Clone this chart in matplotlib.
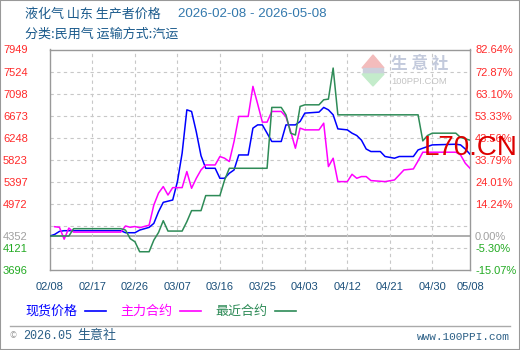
import numpy as np
import pandas as pd
import matplotlib
matplotlib.use("Agg")
import matplotlib.pyplot as plt
from matplotlib.patches import Polygon, Rectangle
from matplotlib.lines import Line2D

plt.rcParams['font.family'] = ['Noto Sans CJK SC', 'DejaVu Sans']

YEAR = "2026-"

# 现货价格 (spot)
spot_dates = ["02-08", "02-09", "02-10", "02-11", "02-23", "02-24", "02-26", "02-27",
              "03-01", "03-02", "03-03", "03-04", "03-06", "03-07", "03-08", "03-09",
              "03-10", "03-11", "03-12", "03-13", "03-15", "03-16", "03-17", "03-18",
              "03-19", "03-20", "03-22", "03-23", "03-24", "03-25", "03-26", "03-27",
              "03-29", "03-30", "04-01", "04-02", "04-03", "04-06", "04-07", "04-08",
              "04-09", "04-10", "04-12", "04-13", "04-14", "04-15", "04-16", "04-17",
              "04-19", "04-20", "04-22", "04-23", "04-26", "04-27", "04-28", "04-30",
              "05-05", "05-06", "05-07", "05-08"]
spot_vals = [4352, 4383, 4441, 4454, 4454, 4415, 4415, 4466,
             4518, 4595, 4821, 5001, 5046, 5401, 5950, 6785,
             6754, 6360, 5900, 5658, 5658, 5465, 5465, 5562,
             5626, 5915, 5915, 6432, 6495, 6495, 6335, 6175,
             6175, 6495, 6495, 6561, 6722, 6741, 6832, 6785,
             6689, 6418, 6399, 6335, 6290, 6200, 6030, 5981,
             5981, 5885, 5852, 5885, 5885, 6012, 6045, 6109,
             6122, 6109, 6030, 5929]

# 主力合约 (main contract)
main_dates = ["02-09", "02-10", "02-11", "02-12", "02-13", "02-23", "02-24", "02-25",
              "02-26", "02-27", "03-01", "03-02", "03-03", "03-04", "03-05", "03-06",
              "03-08", "03-09", "03-10", "03-11", "03-12", "03-13", "03-15", "03-16",
              "03-17", "03-18", "03-19", "03-20", "03-22", "03-23", "03-24", "03-25",
              "03-26", "03-27", "03-29", "03-30", "03-31", "04-01", "04-02", "04-03",
              "04-06", "04-07", "04-08", "04-09", "04-10", "04-12", "04-13", "04-14",
              "04-15", "04-16", "04-17", "04-20", "04-22", "04-23", "04-24", "04-26",
              "04-27", "04-28", "05-05", "05-06", "05-07", "05-08"]
main_vals = [4531, 4520, 4290, 4505, 4427, 4427, 4545, 4520,
             4535, 4512, 4560, 4949, 5180, 5305, 5142, 5285,
             5285, 5595, 5272, 5465, 5626, 5722, 5722, 5885,
             5852, 5788, 6175, 6658, 6658, 7238, 6900, 6548,
             6548, 6754, 6754, 6650, 6368, 6045, 6432, 6399,
             6399, 6528, 5691, 5852, 5401, 5401, 5542, 5465,
             5498, 5498, 5421, 5401, 5433, 5529, 5626, 5645,
             5800, 5968, 5968, 5915, 5755, 5658]

# 最近合约 (nearest contract)
near_dates = ["02-08", "02-12", "02-13", "02-23", "02-24", "02-25", "02-26", "02-27",
              "03-01", "03-02", "03-03", "03-04", "03-05", "03-08", "03-09", "03-10",
              "03-12", "03-13", "03-16", "03-17", "03-18", "03-26", "03-27", "03-29",
              "03-30", "03-31", "04-01", "04-02", "04-03", "04-06", "04-07", "04-08",
              "04-09", "04-10", "04-27", "04-28", "04-29", "04-30", "05-05", "05-06",
              "05-08"]
near_vals = [4352, 4352, 4493, 4493, 4466, 4300, 4241, 4048,
             4048, 4272, 4420, 4647, 4447, 4447, 4628, 4841,
             4841, 5131, 5131, 5432, 5658, 5658, 6832, 6832,
             6689, 6335, 6300, 6851, 6882, 6882, 6979, 6992,
             7591, 6689, 6689, 6186, 6290, 6335, 6335, 6252,
             6200]

x_ticks = ["02-08", "02-17", "02-26", "03-07", "03-16", "03-25", "04-03",
           "04-12", "04-21", "04-30", "05-08"]
y_ticks = [7949, 7524, 7098, 6673, 6248, 5823, 5397, 4972, 4547, 4352, 4121, 3696]
y_labels = ["7949", "7524", "7098", "6673", "6248", "5823", "5397", "4972", "",
            "4352", "4121", "3696"]
pct_labels = ["82.64%", "72.87%", "63.10%", "53.33%", "43.56%", "33.79%", "24.01%",
              "14.24%", "", "0.00%", "-5.30%", "-15.07%"]
base_val = 4352

series = [("现货价格", spot_dates, spot_vals, "#0000ff"),
          ("主力合约", main_dates, main_vals, "#ff00ff"),
          ("最近合约", near_dates, near_vals, "#2e8b57")]

W, H = 520, 350


def px(x, y):
    return x / W, 1 - y / H


def to_dt(lst):
    return pd.to_datetime([YEAR + s for s in lst])


fig = plt.figure(figsize=(W / 100, H / 100), dpi=100)
fig.patch.set_facecolor("white")
fig.patches.append(Rectangle((0, 0), 1, 1, transform=fig.transFigure, fill=False,
                             edgecolor="#999999", lw=1.5))

ax = fig.add_axes([50 / W, 1 - 270 / H, 420 / W, 220.5 / H])
xt = to_dt(x_ticks)
ax.set_xlim(xt[0], xt[-1])
ax.set_ylim(min(y_ticks), max(y_ticks))

# grid
for v in y_ticks:
    if v in (min(y_ticks), max(y_ticks)):
        continue
    if v == base_val:
        ax.axhline(v, color="#a0a0a0", lw=1.2, zorder=1)
    else:
        ax.axhline(v, color="#c8c8c8", lw=0.8, ls=(0, (3, 3)), zorder=1)
for d in xt[1:-1]:
    ax.axvline(d, color="#c8c8c8", lw=0.8, ls=(0, (3, 3)), zorder=1)

for name, ds, vs, c in series:
    ax.plot(to_dt(ds), vs, color=c, lw=1.1, zorder=3)

for s in ax.spines.values():
    s.set_color("#999999")
    s.set_linewidth(1.0)

def lab_color(v):
    if v > base_val:
        return "#ff2a2a"
    if v == base_val:
        return "#a0a0a0"
    return "#22aa22"

ax.set_yticks(y_ticks)
ax.set_yticklabels(y_labels)
ax.tick_params(axis="y", length=0, pad=16, labelsize=8)
for t, v in zip(ax.get_yticklabels(), y_ticks):
    t.set_color(lab_color(v))
    t.set_fontfamily("Liberation Sans")

ax2 = ax.twinx()
ax2.set_ylim(ax.get_ylim())
ax2.set_yticks(y_ticks)
ax2.set_yticklabels(pct_labels)
ax2.tick_params(axis="y", length=0, pad=3.6, labelsize=8)
for t, v in zip(ax2.get_yticklabels(), y_ticks):
    t.set_color(lab_color(v))
    t.set_fontfamily("Liberation Sans")
for s in ax2.spines.values():
    s.set_visible(False)

ax.set_xticks(xt)
ax.set_xticklabels([s.replace("-", "/") for s in x_ticks])
ax.tick_params(axis="x", length=0, pad=9, labelsize=8, labelcolor="#1a4f7a")
for t in ax.get_xticklabels():
    t.set_fontfamily("Liberation Sans")

# titles
title_c = "#1a5a8c"
fig.text(*px(25, 14), "液化气 山东 生产者价格", fontsize=9.4, color=title_c, va="center")
fig.text(*px(178, 14), "2026-02-08 - 2026-05-08", fontsize=9.6, color="#3479ad",
         va="center", family="Liberation Sans")
fig.text(*px(25, 34), "分类:民用气 运输方式:汽运", fontsize=9.4, color=title_c, va="center")

# legend
leg_x = [25, 120, 215]
for (name, ds, vs, c), lx in zip(series, leg_x):
    fig.text(*px(lx, 311), name, fontsize=9.4, color=c, va="center")
    fig.lines.append(Line2D([(lx + 60) / W, (lx + 81) / W], [1 - 311 / H] * 2,
                            transform=fig.transFigure, color=c, lw=1.2))

# footer
fig.lines.append(Line2D([10 / W, 510 / W], [1 - 326 / H] * 2, transform=fig.transFigure,
                        color="#aaaaaa", lw=1.0))
fig.text(*px(10, 336), "©", fontsize=6, color="#999999", va="center")
fig.text(*px(23, 336), "2026.05", fontsize=8.5, color="#2b5f86", va="center",
         family="Liberation Mono")
fig.text(*px(77, 336), "生意社", fontsize=9.4, color="#2b5f86", va="center")
fig.text(*px(510, 337), "www.100PPI.com", fontsize=8, color="#2b5f86", va="center",
         ha="right", family="Liberation Mono")

# watermark logo
fig.patches.append(Polygon([px(362, 68), px(384, 68), px(373, 55)], closed=True,
                           transform=fig.transFigure, color="#f3bcbc", zorder=5))
fig.patches.append(Rectangle(px(363, 74), 20 / W, 6 / H, transform=fig.transFigure,
                             color="#ccd0dc", zorder=5))
fig.patches.append(Polygon([px(362, 74), px(384, 74), px(373, 86)], closed=True,
                           transform=fig.transFigure, color="#c4eccb", zorder=5))
fig.text(*px(391, 64), "生 意 社", fontsize=12, color="#c3cadc", va="center",
         fontweight="bold", zorder=6)
fig.text(*px(391, 81), "100PPI.COM", fontsize=6.8, color="#c4c4c4", va="center",
         family="Liberation Sans", zorder=6)

fig.text(*px(424, 155), "L70.CN", fontsize=20, color="#dd0000", va="baseline",
         family="Liberation Sans", zorder=10)

fig.savefig("out.png", dpi=100)
